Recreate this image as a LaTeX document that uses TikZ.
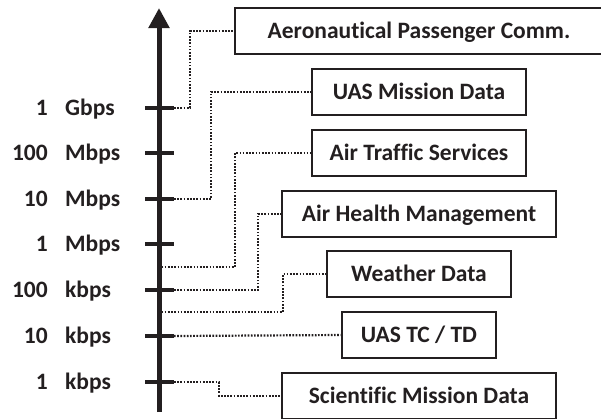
\documentclass[tikz,border=0pt]{standalone}
\usepackage{fontspec}
\setmainfont{Carlito}[Ligatures=NoCommon]
\usetikzlibrary{arrows.meta}
\definecolor{ink}{HTML}{231F20}
\tikzset{
  rate/.style={font=\bfseries\fontsize{23.5}{23.5}\selectfont, text=ink, inner sep=0pt, text height=15pt, text depth=0pt},
  app/.style={draw=ink, line width=2.7pt, fill=white, font=\bfseries\fontsize{23.5}{23.5}\selectfont, text=ink, minimum height=46pt, inner sep=0pt, text height=15pt, text depth=0pt},
  link/.style={draw=ink, line width=2.2pt, dash pattern=on 1.7pt off 1.5pt},
  tick/.style={draw=ink, line width=4pt}
}
\begin{document}
\begin{tikzpicture}[x=1pt, y=-1pt]
  \useasboundingbox (0,0) rectangle (601,418);
  \clip (0,0) rectangle (601,418);
  % axis
  \coordinate (bot) at (159,412);
  \coordinate (top) at (159,8);
  \draw[draw=ink, line width=5pt, -{Triangle[length=20pt, width=20pt]}] (bot) -- (top);
  % ticks and rate labels
  \foreach \y/\n/\u [count=\i] in {108/1/Gbps, 153/100/Mbps, 199/10/Mbps, 244/1/Mbps, 290/100/kbps, 336/10/kbps, 382/1/kbps} {
    \draw[tick] (145,\y) -- (174,\y) coordinate (t\i);
    \node[rate, anchor=east] (n\i) at (48,\y) {\n};
    \node[rate, anchor=west] (u\i) at (65,\y) {\u};
  }
  \coordinate (a1) at (161.5,267);
  \coordinate (a2) at (161.5,312);
  % application boxes
  \node[app, minimum width=368pt] (aero) at (419,31) {Aeronautical Passenger Comm.};
  \node[app, minimum width=214pt] (uasmd) at (419,92) {UAS Mission Data};
  \node[app, minimum width=214pt] (ats) at (419,153) {Air Traffic Services};
  \node[app, minimum width=274pt] (ahm) at (419,214) {Air Health Management};
  \node[app, minimum width=184pt] (wx) at (419,274) {Weather Data};
  \node[app, minimum width=154pt] (tctd) at (419,335) {UAS TC / TD};
  \node[app, minimum width=274pt] (sci) at (419,396) {Scientific Mission Data};
  % connectors
  \draw[link] (t1) -- ++(16,0) |- (aero.west);
  \draw[link] (t3) -- ++(37,0) |- (uasmd.west);
  \draw[link] (a1) -- ++(73.5,0) |- (ats.west);
  \draw[link] (t5) -- ++(84,0) |- (ahm.west);
  \draw[link] (a2) -- ++(121.5,0) |- (wx.west);
  \draw[link] (t6) -- (tctd.west);
  \draw[link] (t7) -- ++(45,0) |- (sci.west);
\end{tikzpicture}
\end{document}
